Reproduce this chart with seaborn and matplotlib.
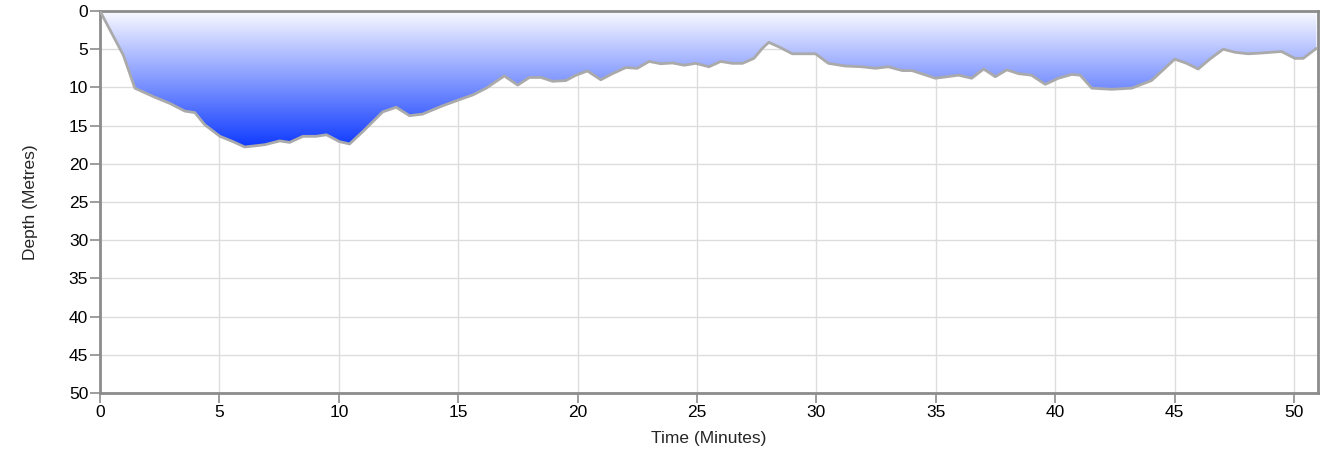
import matplotlib
matplotlib.use("Agg")
import matplotlib.pyplot as plt
from matplotlib.colors import LinearSegmentedColormap
import seaborn as sns
import numpy as np
import pandas as pd

# dive profile
time_min = [0.0, 0.49, 0.98, 1.46, 2.23, 2.93, 3.55, 3.97, 4.39, 5.02, 5.57, 6.06,
            6.9, 7.53, 7.94, 8.5, 9.06, 9.48, 10.03, 10.45, 11.0, 11.84, 12.4, 12.96,
            13.5, 14.35, 15.05, 15.6, 16.17, 16.93, 17.49, 17.98, 18.47, 18.95, 19.51,
            19.93, 20.41, 20.97, 21.46, 22.02, 22.5, 22.99, 23.48, 23.97, 24.46, 24.94,
            25.5, 25.99, 26.48, 26.9, 27.38, 27.73, 28.0, 28.43, 28.99, 29.4, 29.96,
            30.5, 31.2, 31.9, 32.47, 33.0, 33.6, 34.0, 34.98, 35.95, 36.5, 37.0, 37.49,
            37.97, 38.46, 39.0, 39.58, 40.13, 40.69, 41.04, 41.53, 42.36, 43.2, 44.03,
            44.52, 45.0, 45.5, 45.98, 46.47, 47.03, 47.52, 48.08, 48.63, 49.47, 50.03,
            50.38, 50.93]
depth_m = [0.0, 2.9, 5.8, 10.1, 11.2, 12.1, 13.1, 13.3, 14.9, 16.4, 17.1, 17.8,
           17.5, 17.0, 17.2, 16.4, 16.4, 16.2, 17.1, 17.4, 15.8, 13.2, 12.6, 13.7,
           13.5, 12.4, 11.6, 11.0, 10.1, 8.5, 9.7, 8.7, 8.7, 9.2, 9.1,
           8.4, 7.85, 9.0, 8.2, 7.4, 7.5, 6.6, 6.9, 6.8, 7.1, 6.85,
           7.3, 6.6, 6.85, 6.85, 6.2, 4.9, 4.1, 4.7, 5.6, 5.6, 5.6,
           6.85, 7.2, 7.3, 7.5, 7.3, 7.8, 7.8, 8.8, 8.4, 8.8, 7.6, 8.6,
           7.7, 8.2, 8.4, 9.6, 8.8, 8.3, 8.4, 10.1, 10.25, 10.1, 9.1,
           7.7, 6.3, 6.85, 7.6, 6.3, 5.0, 5.4, 5.6, 5.5, 5.3, 6.2,
           6.2, 4.9]

df = pd.DataFrame({"time": time_min, "depth": depth_m})

sns.set_style("white")
plt.rcParams['font.family'] = ['Liberation Sans', 'DejaVu Sans']

fig = plt.figure(figsize=(13.3, 4.54), dpi=100)
ax = fig.add_axes([100 / 1330, 1 - 393 / 454, 1218 / 1330, 382 / 454])

# gradient fill under the profile
poly = ax.fill_between(df["time"], 0, df["depth"], color="none", lw=0)
cmap = LinearSegmentedColormap.from_list("sea", ["#fbfbff", "#0a36ff"])
grad = np.linspace(0, 1, 256).reshape(-1, 1)
img = ax.imshow(grad, cmap=cmap, aspect="auto", extent=[0, 51, 18.2, 0],
                origin="upper", zorder=1)
img.set_clip_path(poly.get_paths()[0], transform=ax.transData)

sns.lineplot(data=df, x="time", y="depth", ax=ax, color="#aaaaaa", lw=2, zorder=3)

ax.set_xlim(0, 51)
ax.set_ylim(50, 0)
ax.set_xticks(range(0, 51, 5))
ax.set_yticks(range(0, 51, 5))
ax.grid(True, color="#dddddd", lw=1, zorder=0)
ax.set_axisbelow(True)
for s in ax.spines.values():
    s.set_color("#8c8c8c")
    s.set_linewidth(2)
ax.tick_params(axis="both", direction="out", length=7, width=1.2, color="#8c8c8c",
               labelsize=12.5, labelcolor="black", pad=1.5)
ax.tick_params(axis="y", left=True)
ax.tick_params(axis="x", bottom=True)
ax.set_xlabel("Time (Minutes)", fontsize=12.5, labelpad=8)
ax.set_ylabel("Depth (Metres)", fontsize=12.5, labelpad=22)

fig.savefig("out.png", dpi=100)
